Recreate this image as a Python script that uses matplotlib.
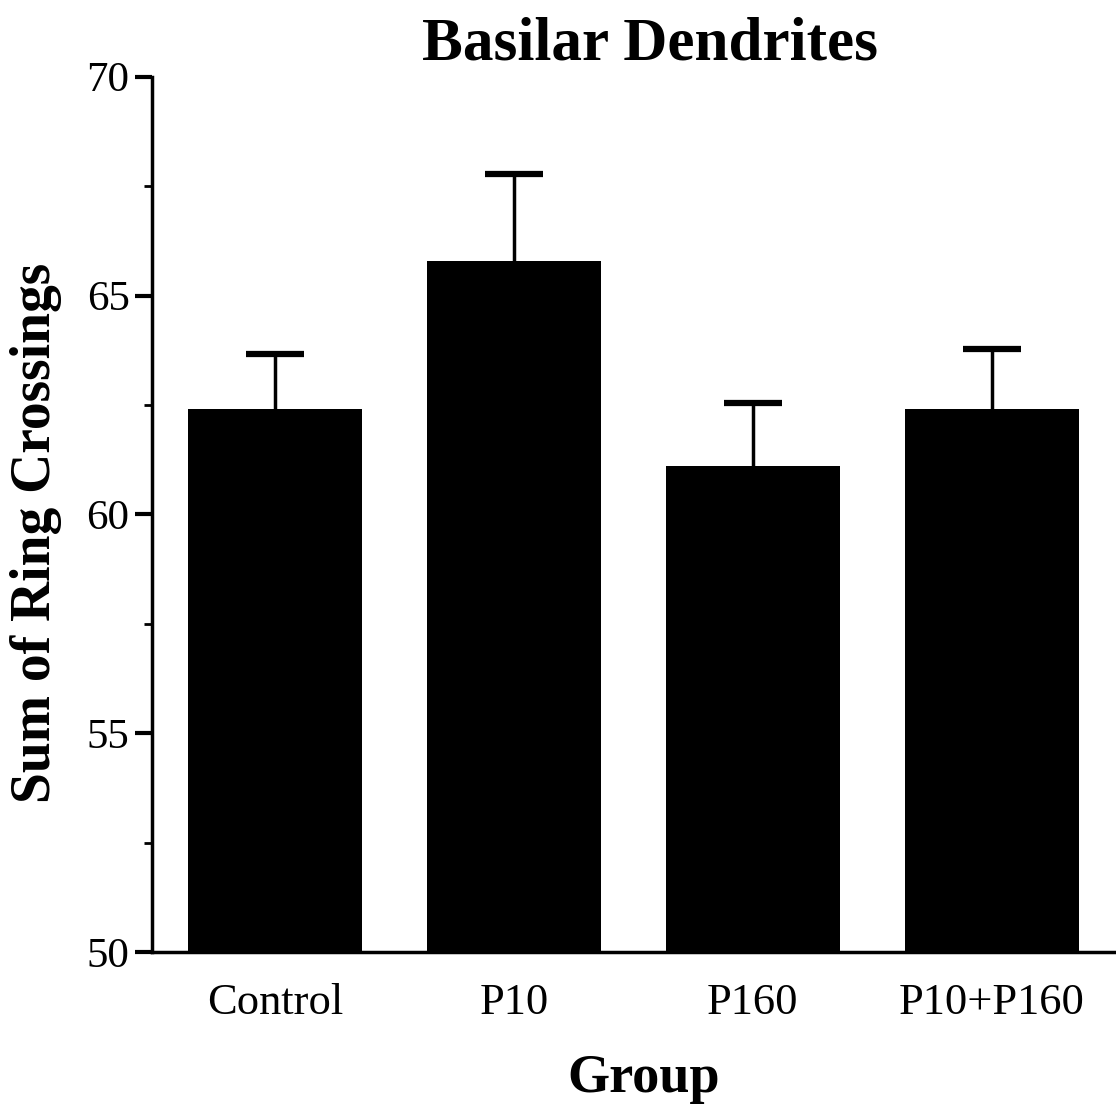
import numpy as np
import matplotlib
matplotlib.use('Agg')
import matplotlib.pyplot as plt
from matplotlib.ticker import MultipleLocator

# data
groups = ['Control', 'P10', 'P160', 'P10+P160']
means = [62.4, 65.8, 61.1, 62.4]
sem = [1.27, 1.97, 1.44, 1.37]

plt.rcParams['font.family'] = 'Liberation Serif'

fig = plt.figure(figsize=(11.16, 11.10), dpi=100)
ax = fig.add_axes([0.136, 0.142, 0.864, 0.789])

x = np.arange(len(groups))
# symmetric error bars drawn under the bars, so only the upper half shows
ax.errorbar(x, means, yerr=sem, fmt='none', ecolor='black',
            elinewidth=2.5, capsize=21, capthick=4.5, zorder=1)
ax.bar(x, means, width=0.73, color='black', zorder=2)

ax.set_ylim(50, 70)
ax.set_xlim(-0.515, 3.52)
ax.set_xticks(x)
ax.set_xticklabels(groups, fontsize=32)
ax.tick_params(axis='x', length=0, pad=22)
ax.yaxis.set_major_locator(MultipleLocator(5))
ax.yaxis.set_minor_locator(MultipleLocator(2.5))
ax.tick_params(axis='y', which='major', length=12, width=3, labelsize=31, pad=4)
ax.tick_params(axis='y', which='minor', length=6, width=2)

for s in ['top', 'right']:
    ax.spines[s].set_visible(False)
ax.spines['left'].set_linewidth(2.5)
ax.spines['bottom'].set_linewidth(2.5)

ax.set_title('Basilar Dendrites', fontsize=44, fontweight='bold', pad=12, x=0.517)
ax.set_ylabel('Sum of Ring Crossings', fontsize=40, fontweight='bold')
ax.yaxis.set_label_coords(-0.093, 0.479)
ax.set_xlabel('Group', fontsize=39, fontweight='bold')
ax.xaxis.set_label_coords(0.51, -0.116)

plt.savefig('out.png', dpi=100)
plt.close()
